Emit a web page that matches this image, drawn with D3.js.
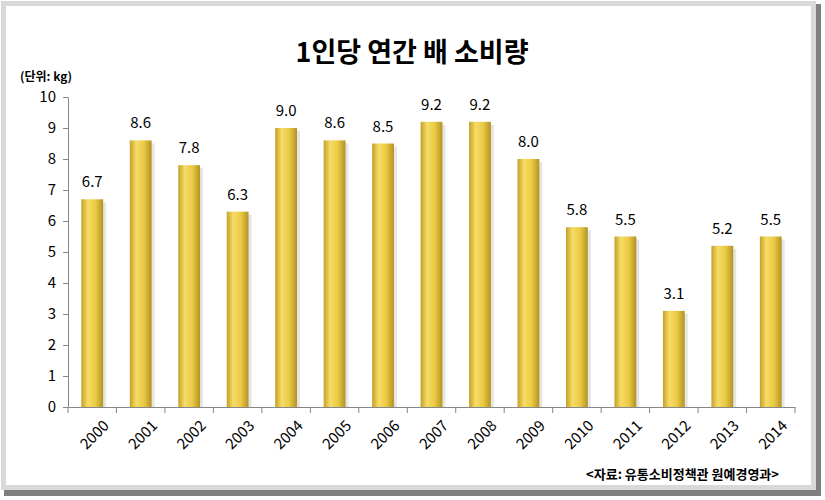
<!DOCTYPE html>
<html><head><meta charset="utf-8">
<script src="https://cdn.jsdelivr.net/npm/d3@7"></script>
<style>body{margin:0;background:#fff}text{font-family:"Noto Sans CJK KR","Noto Sans",sans-serif}</style>
</head><body><div id="chart"></div>
<script>
var years = ["2000","2001","2002","2003","2004","2005","2006","2007","2008","2009","2010","2011","2012","2013","2014"];
var values = [6.7,8.6,7.8,6.3,9.0,8.6,8.5,9.2,9.2,8.0,5.8,5.5,3.1,5.2,5.5];
var yTicks = [0,1,2,3,4,5,6,7,8,9,10];

var svg = d3.select("#chart").append("svg").attr("width",825).attr("height",500);
var defs = svg.append("defs");
var g1 = defs.append("linearGradient").attr("id","gold");
g1.append("stop").attr("offset","0%").attr("stop-color","#c4a128");
g1.append("stop").attr("offset","30%").attr("stop-color","#f6dc66");
g1.append("stop").attr("offset","65%").attr("stop-color","#eac944");
g1.append("stop").attr("offset","100%").attr("stop-color","#b39322");

// frame
svg.append("rect").attr("x",4).attr("y",4).attr("width",817).attr("height",492).attr("fill","#7f7f7f");
svg.append("rect").attr("x",1).attr("y",1).attr("width",815).attr("height",489).attr("fill","#d9d9d9");
svg.append("rect").attr("x",6).attr("y",6).attr("width",805).attr("height",479).attr("fill","#fff");

var x = d3.scaleBand().domain(years).range([68,795]).paddingInner(0.55).paddingOuter(0.275);
var y = d3.scaleLinear().domain([0,10]).range([407,97]);

svg.append("text").attr("x",412).attr("y",62).attr("text-anchor","middle")
  .attr("font-size",27).attr("font-weight","bold").text("1인당 연간 배 소비량");
svg.append("text").attr("x",20).attr("y",81).attr("font-size",12).attr("font-weight","bold").text("(단위: kg)");

var ya = svg.append("g").attr("transform","translate(68,0)")
  .call(d3.axisLeft(y).tickValues(yTicks).tickSize(5).tickSizeOuter(0));
ya.selectAll("text").attr("font-size",15).attr("fill","#000").attr("dx",-4);
ya.selectAll("line,path").attr("stroke","#868686");

var xa = svg.append("g").attr("transform","translate(0,407)")
  .call(d3.axisBottom(x).tickSize(0).tickSizeOuter(0));
xa.select("path").attr("stroke","#868686");
var step = x.step();
xa.selectAll(".tick").append("line").attr("x1",step/2).attr("x2",step/2).attr("y2",6).attr("stroke","#868686");
xa.append("line").attr("x1",68).attr("x2",68).attr("y2",6).attr("stroke","#868686");
xa.selectAll("text").attr("font-size",15).attr("fill","#000").attr("y",0).attr("dy","0.35em")
  .attr("text-anchor","end").attr("transform","translate(14,16) rotate(-45)");

var bars = svg.selectAll(".bar").data(years).enter().append("g");
bars.append("rect").attr("x",function(d){return x(d)+3;}).attr("y",function(d,i){return y(values[i])+3;})
  .attr("width",x.bandwidth()).attr("height",function(d,i){return 407-y(values[i])-3;}).attr("fill","#000").attr("opacity",0.1);
bars.append("rect").attr("x",function(d){return x(d);}).attr("y",function(d,i){return y(values[i]);})
  .attr("width",x.bandwidth()).attr("height",function(d,i){return 407-y(values[i]);}).attr("fill","url(#gold)");
bars.append("text").attr("x",function(d){return x(d)+x.bandwidth()/2;}).attr("y",function(d,i){return y(values[i])-12;})
  .attr("text-anchor","middle").attr("font-size",15).text(function(d,i){return values[i].toFixed(1);});

svg.append("text").attr("x",779).attr("y",479).attr("text-anchor","end").attr("font-size",13).attr("font-weight","bold")
  .text("<자료: 유통소비정책관 원예경영과>");
</script></body></html>
